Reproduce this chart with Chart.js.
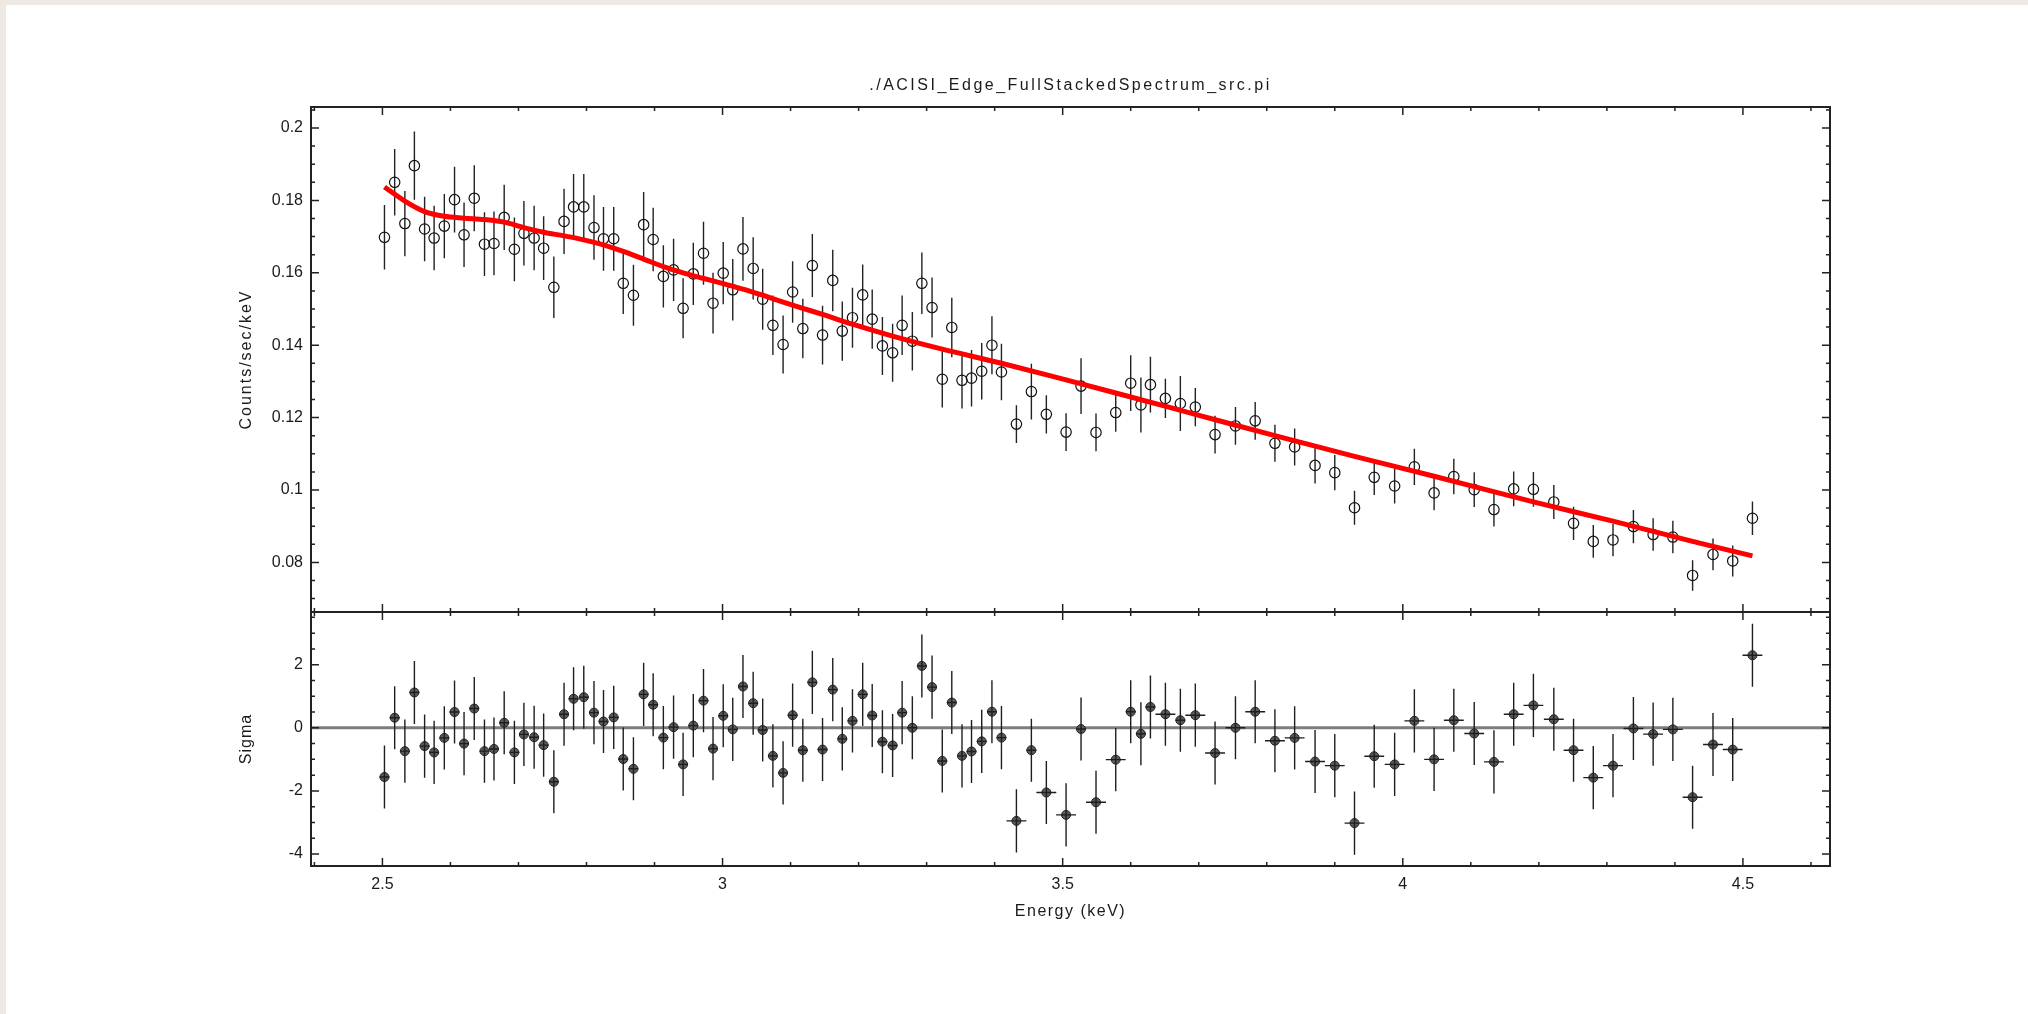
<!DOCTYPE html>
<html>
<head>
<meta charset="utf-8">
<title>ACISI_Edge_FullStackedSpectrum_src.pi</title>
<script src="https://cdn.jsdelivr.net/npm/chart.js@4.4.1/dist/chart.umd.min.js"></script>
<style>
  html, body { margin: 0; padding: 0; background: #eeeae3; overflow: hidden; }
  #sheet { position: absolute; left: 6px; top: 5px; width: 2022px; height: 1009px; background: #fff; }
  canvas { position: absolute; left: 0; top: 0; }
</style>
</head>
<body>
<div id="sheet"></div>
<canvas id="spectrum" width="2028" height="640"></canvas>
<canvas id="residuals" width="2028" height="1014"></canvas>
<script>
// bin centres (keV)
var energy = [
  2.503, 2.518, 2.533, 2.547, 2.562, 2.576, 2.591, 2.606, 2.620, 2.635,
  2.650, 2.664, 2.679, 2.694, 2.708, 2.723, 2.737, 2.752, 2.767, 2.781,
  2.796, 2.811, 2.825, 2.840, 2.854, 2.869, 2.884, 2.898, 2.913, 2.928,
  2.942, 2.957, 2.972, 2.986, 3.001, 3.015, 3.030, 3.045, 3.059, 3.074,
  3.089, 3.103, 3.118, 3.132, 3.147, 3.162, 3.176, 3.191, 3.206, 3.220,
  3.235, 3.250, 3.264, 3.279, 3.293, 3.308, 3.323, 3.337, 3.352, 3.366,
  3.381, 3.396, 3.410, 3.432, 3.454, 3.476, 3.505, 3.527, 3.549, 3.578,
  3.600, 3.615, 3.629, 3.651, 3.673, 3.695, 3.724, 3.754, 3.783, 3.812,
  3.841, 3.871, 3.900, 3.929, 3.958, 3.988, 4.017, 4.046, 4.075, 4.105,
  4.134, 4.163, 4.192, 4.222, 4.251, 4.280, 4.309, 4.339, 4.368, 4.397,
  4.426, 4.456, 4.485, 4.514
];

// channels grouped into each bin
var binChannels = [
  1, 1, 1, 1, 1, 1, 1, 1, 1, 1,
  1, 1, 1, 1, 1, 1, 1, 1, 1, 1,
  1, 1, 1, 1, 1, 1, 1, 1, 1, 1,
  1, 1, 1, 1, 1, 1, 1, 1, 1, 1,
  1, 1, 1, 1, 1, 1, 1, 1, 1, 1,
  1, 1, 1, 1, 1, 1, 1, 1, 1, 1,
  1, 1, 1, 2, 1, 2, 2, 1, 2, 2,
  1, 1, 1, 2, 1, 2, 2, 2, 2, 2,
  2, 2, 2, 2, 2, 2, 2, 2, 2, 2,
  2, 2, 2, 2, 2, 2, 2, 2, 2, 2,
  2, 2, 2, 2
];
var CHANNEL_KEV = 0.0146;

// counts/sec/keV
var rate = [
  0.1698, 0.1850, 0.1736, 0.1896, 0.1721, 0.1696, 0.1729, 0.1802, 0.1705, 0.1806,
  0.1679, 0.1681, 0.1753, 0.1665, 0.1709, 0.1696, 0.1668, 0.1560, 0.1742, 0.1782,
  0.1782, 0.1725, 0.1694, 0.1694, 0.1571, 0.1538, 0.1733, 0.1692, 0.1590, 0.1608,
  0.1502, 0.1597, 0.1654, 0.1516, 0.1599, 0.1553, 0.1666, 0.1612, 0.1527, 0.1455,
  0.1402, 0.1547, 0.1446, 0.1620, 0.1428, 0.1579, 0.1439, 0.1476, 0.1539, 0.1472,
  0.1398, 0.1379, 0.1455, 0.1411, 0.1571, 0.1504, 0.1306, 0.1449, 0.1303, 0.1309,
  0.1328, 0.1400, 0.1326, 0.1182, 0.1272, 0.1209, 0.1160, 0.1287, 0.1159, 0.1214,
  0.1295, 0.1235, 0.1291, 0.1253, 0.1239, 0.1229, 0.1153, 0.1177, 0.1191, 0.1129,
  0.1119, 0.1068, 0.1048, 0.0951, 0.1035, 0.1011, 0.1064, 0.0992, 0.1037, 0.1001,
  0.0946, 0.1003, 0.1002, 0.0967, 0.0908, 0.0858, 0.0862, 0.0899, 0.0877, 0.0870,
  0.0764, 0.0822, 0.0804, 0.0922
];

var rateErr = [
  0.0089, 0.0092, 0.0090, 0.0094, 0.0089, 0.0089, 0.0089, 0.0091, 0.0089, 0.0091,
  0.0088, 0.0088, 0.0090, 0.0088, 0.0089, 0.0089, 0.0088, 0.0085, 0.0090, 0.0091,
  0.0091, 0.0089, 0.0088, 0.0088, 0.0085, 0.0084, 0.0090, 0.0088, 0.0086, 0.0086,
  0.0083, 0.0086, 0.0087, 0.0084, 0.0086, 0.0085, 0.0088, 0.0086, 0.0084, 0.0082,
  0.0080, 0.0085, 0.0082, 0.0087, 0.0081, 0.0085, 0.0082, 0.0083, 0.0084, 0.0082,
  0.0080, 0.0080, 0.0082, 0.0081, 0.0085, 0.0083, 0.0078, 0.0082, 0.0078, 0.0078,
  0.0078, 0.0080, 0.0078, 0.0052, 0.0077, 0.0053, 0.0052, 0.0077, 0.0052, 0.0053,
  0.0077, 0.0076, 0.0077, 0.0054, 0.0076, 0.0053, 0.0052, 0.0052, 0.0052, 0.0051,
  0.0051, 0.0050, 0.0049, 0.0047, 0.0049, 0.0048, 0.0050, 0.0048, 0.0049, 0.0048,
  0.0047, 0.0048, 0.0048, 0.0047, 0.0046, 0.0045, 0.0045, 0.0046, 0.0045, 0.0045,
  0.0042, 0.0044, 0.0043, 0.0046
];

// (data - model) / error
var sigma = [
  -1.56, 0.32, -0.74, 1.12, -0.58, -0.78, -0.32, 0.50, -0.50, 0.61,
  -0.74, -0.67, 0.16, -0.78, -0.21, -0.30, -0.55, -1.71, 0.43, 0.92,
  0.97, 0.48, 0.20, 0.33, -0.99, -1.30, 1.06, 0.73, -0.31, 0.02,
  -1.16, 0.07, 0.86, -0.66, 0.38, -0.05, 1.31, 0.78, -0.07, -0.89,
  -1.43, 0.40, -0.71, 1.44, -0.69, 1.21, -0.35, 0.22, 1.06, 0.39,
  -0.44, -0.56, 0.48, 0.00, 1.96, 1.29, -1.05, 0.80, -0.89, -0.75,
  -0.43, 0.51, -0.31, -2.95, -0.71, -2.05, -2.76, -0.04, -2.36, -1.01,
  0.51, -0.19, 0.66, 0.43, 0.24, 0.40, -0.80, 0.00, 0.51, -0.41,
  -0.32, -1.07, -1.20, -3.02, -0.90, -1.16, 0.22, -1.00, 0.24, -0.18,
  -1.08, 0.43, 0.71, 0.27, -0.71, -1.58, -1.20, -0.02, -0.20, -0.05,
  -2.20, -0.53, -0.69, 2.30
];
var SIGMA_ERR = 1;

// folded model
var modelEnergy = [
  2.503, 2.533, 2.562, 2.591, 2.620, 2.650, 2.679, 2.708, 2.737, 2.767,
  2.796, 2.825, 2.854, 2.884, 2.913, 2.942, 2.971, 3.001, 3.030, 3.059,
  3.088, 3.118, 3.147, 3.191, 3.250, 3.323, 3.410, 3.505, 3.578, 3.695,
  3.812, 3.929, 4.046, 4.192, 4.309, 4.426, 4.514
];
var modelRate = [
  0.1837, 0.1798, 0.1769, 0.1756, 0.1751, 0.1747, 0.1740, 0.1725, 0.1712, 0.1702,
  0.1691, 0.1677, 0.1659, 0.1638, 0.1617, 0.1600, 0.1585, 0.1570, 0.1555, 0.1538,
  0.1520, 0.1502, 0.1485, 0.1458, 0.1425, 0.1389, 0.1350, 0.1304, 0.1268, 0.1209,
  0.1150, 0.1093, 0.1038, 0.0967, 0.0914, 0.0858, 0.0818
];

var energyTicks = [2.5, 3, 3.5, 4, 4.5];
var energyTickLabels = ['2.5', '3', '3.5', '4', '4.5'];
var rateTicks = [0.08, 0.1, 0.12, 0.14, 0.16, 0.18, 0.2];
var rateTickLabels = ['0.08', '0.1', '0.12', '0.14', '0.16', '0.18', '0.2'];
var sigmaTicks = [-4, -2, 0, 2];
var sigmaTickLabels = ['-4', '-2', '0', '2'];

var FONT = '"Liberation Sans", Arial, Helvetica, sans-serif';
var INK = '#1a1a1a';
Chart.defaults.font.family = FONT;
Chart.defaults.font.size = 16;
Chart.defaults.color = INK;

var xRange = { min: 2.395, max: 4.628 };

// text with wider letter spacing, like the plotting package draws it
function spacedText(ctx, text, x, y, rotate, spacing) {
  ctx.save();
  ctx.font = '16px ' + FONT;
  ctx.fillStyle = INK;
  ctx.letterSpacing = spacing + 'px';
  ctx.textAlign = 'center';
  ctx.textBaseline = 'middle';
  ctx.translate(x, y);
  if (rotate) ctx.rotate(-Math.PI / 2);
  ctx.fillText(text, 0, 0);
  ctx.restore();
}

// box around the panel with inward ticks on all four sides
function drawBox(chart, yFrom, yTo, yDiv, yMajorEvery) {
  var ctx = chart.ctx, a = chart.chartArea;
  var x = chart.scales.x, y = chart.scales.y;
  ctx.save();
  ctx.strokeStyle = '#222';
  ctx.lineWidth = 1.5;
  ctx.beginPath();
  for (var k = 24; k <= 46; k++) {
    var px = x.getPixelForValue(k / 10);
    var len = (k % 5 === 0) ? 8 : 4;
    ctx.moveTo(px, a.bottom); ctx.lineTo(px, a.bottom - len);
    ctx.moveTo(px, a.top); ctx.lineTo(px, a.top + len);
  }
  for (var j = yFrom; j <= yTo; j++) {
    var py = y.getPixelForValue(j / yDiv);
    var l2 = (j % yMajorEvery === 0) ? 8 : 4;
    ctx.moveTo(a.left, py); ctx.lineTo(a.left + l2, py);
    ctx.moveTo(a.right, py); ctx.lineTo(a.right - l2, py);
  }
  ctx.stroke();
  ctx.lineWidth = 2;
  ctx.strokeRect(a.left, a.top, a.right - a.left, a.bottom - a.top);
  ctx.restore();
}

function yAxis(min, max, values, labels) {
  return {
    type: 'linear', min: min, max: max,
    afterFit: function (s) { s.width = 311; },
    afterBuildTicks: function (s) { s.ticks = values.map(function (v) { return { value: v }; }); },
    grid: { display: false, drawTicks: false },
    border: { display: false },
    ticks: { padding: 8, callback: function (v, i) { return labels[i]; } }
  };
}

var spectrumPlugin = {
  id: 'spectrumExtras',
  beforeDatasetsDraw: function (chart) {
    var ctx = chart.ctx, x = chart.scales.x, y = chart.scales.y, a = chart.chartArea;
    ctx.save();
    ctx.beginPath();
    ctx.rect(a.left, a.top, a.right - a.left, a.bottom - a.top);
    ctx.clip();
    ctx.strokeStyle = '#222';
    ctx.lineWidth = 1.4;
    ctx.beginPath();
    for (var i = 0; i < energy.length; i++) {
      var px = x.getPixelForValue(energy[i]);
      ctx.moveTo(px, y.getPixelForValue(rate[i] - rateErr[i]));
      ctx.lineTo(px, y.getPixelForValue(rate[i] + rateErr[i]));
    }
    ctx.stroke();
    ctx.restore();
  },
  afterDraw: function (chart) {
    var a = chart.chartArea;
    drawBox(chart, 14, 41, 200, 4);
    spacedText(chart.ctx, './ACISI_Edge_FullStackedSpectrum_src.pi', (a.left + a.right) / 2, a.top - 21, false, 2.5);
    spacedText(chart.ctx, 'Counts/sec/keV', a.left - 64, (a.top + a.bottom) / 2, true, 2);
  }
};

var residualPlugin = {
  id: 'residualExtras',
  beforeDatasetsDraw: function (chart) {
    var ctx = chart.ctx, y = chart.scales.y, a = chart.chartArea;
    var py = y.getPixelForValue(0);
    ctx.save();
    ctx.strokeStyle = '#7d7d7d';
    ctx.lineWidth = 3;
    ctx.beginPath();
    ctx.moveTo(a.left, py);
    ctx.lineTo(a.right, py);
    ctx.stroke();
    ctx.restore();
  },
  afterDatasetsDraw: function (chart) {
    var ctx = chart.ctx, x = chart.scales.x, y = chart.scales.y;
    ctx.save();
    ctx.strokeStyle = '#1e1e1e';
    ctx.lineWidth = 1.4;
    ctx.beginPath();
    for (var i = 0; i < energy.length; i++) {
      var px = x.getPixelForValue(energy[i]);
      var py = y.getPixelForValue(sigma[i]);
      var half = binChannels[i] * CHANNEL_KEV / 2;
      ctx.moveTo(px, y.getPixelForValue(sigma[i] - SIGMA_ERR));
      ctx.lineTo(px, y.getPixelForValue(sigma[i] + SIGMA_ERR));
      ctx.moveTo(x.getPixelForValue(energy[i] - half), py);
      ctx.lineTo(x.getPixelForValue(energy[i] + half), py);
    }
    ctx.stroke();
    ctx.restore();
  },
  afterDraw: function (chart) {
    var a = chart.chartArea;
    drawBox(chart, -8, 7, 2, 4);
    spacedText(chart.ctx, 'Sigma', a.left - 64, (a.top + a.bottom) / 2, true, 1);
    spacedText(chart.ctx, 'Energy (keV)', (a.left + a.right) / 2, a.bottom + 46, false, 1.5);
  }
};

var common = {
  responsive: false,
  animation: false,
  devicePixelRatio: 1,
  events: []
};

new Chart(document.getElementById('spectrum'), {
  type: 'scatter',
  data: {
    datasets: [
      {
        type: 'line',
        label: 'model',
        data: modelEnergy.map(function (e, i) { return { x: e, y: modelRate[i] }; }),
        borderColor: '#ff0000',
        borderWidth: 5,
        pointRadius: 0,
        fill: false,
        cubicInterpolationMode: 'monotone',
        order: 0
      },
      {
        label: 'data',
        data: energy.map(function (e, i) { return { x: e, y: rate[i] }; }),
        pointStyle: 'circle',
        pointRadius: 5.2,
        pointBorderWidth: 1.2,
        pointBorderColor: '#111',
        pointBackgroundColor: 'rgba(0,0,0,0)',
        order: 1
      }
    ]
  },
  options: Object.assign({}, common, {
    layout: { padding: { left: 0, right: 198, top: 107, bottom: 28 } },
    plugins: { legend: { display: false }, tooltip: { enabled: false } },
    scales: {
      x: { type: 'linear', min: xRange.min, max: xRange.max, display: false },
      y: yAxis(0.0663, 0.2058, rateTicks, rateTickLabels)
    }
  }),
  plugins: [spectrumPlugin]
});

new Chart(document.getElementById('residuals'), {
  type: 'scatter',
  data: {
    datasets: [{
      label: 'residuals',
      data: energy.map(function (e, i) { return { x: e, y: sigma[i] }; }),
      pointStyle: 'circle',
      pointRadius: 4.5,
      pointBorderWidth: 1,
      pointBorderColor: '#222',
      pointBackgroundColor: '#5a5a5a'
    }]
  },
  options: Object.assign({}, common, {
    layout: { padding: { left: 0, right: 198, top: 612, bottom: 98 } },
    plugins: { legend: { display: false }, tooltip: { enabled: false } },
    scales: {
      x: {
        type: 'linear', min: xRange.min, max: xRange.max,
        afterFit: function (s) { s.height = 50; },
        afterBuildTicks: function (s) { s.ticks = energyTicks.map(function (v) { return { value: v }; }); },
        grid: { display: false, drawTicks: false },
        border: { display: false },
        ticks: { padding: 9, maxRotation: 0, autoSkip: false, callback: function (v, i) { return energyTickLabels[i]; } }
      },
      y: yAxis(-4.38, 3.67, sigmaTicks, sigmaTickLabels)
    }
  }),
  plugins: [residualPlugin]
});
</script>
</body>
</html>
